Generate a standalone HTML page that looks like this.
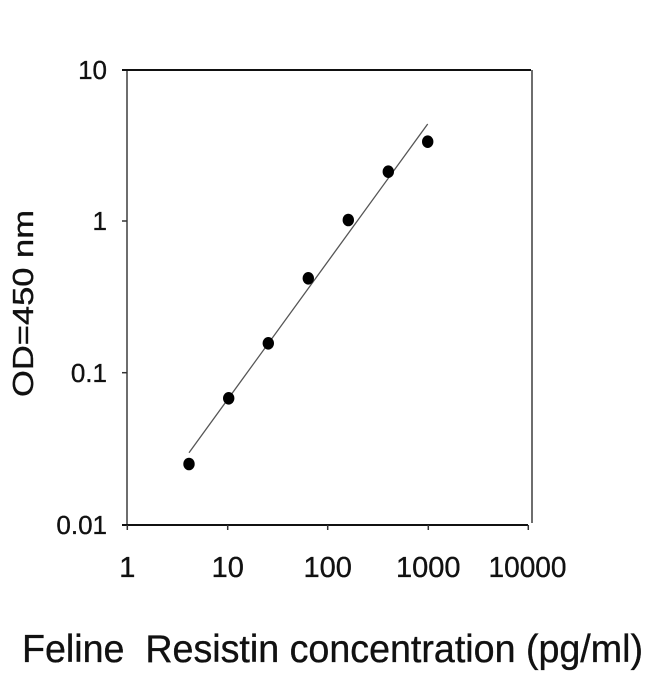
<!DOCTYPE html>
<html>
<head>
<meta charset="utf-8">
<style>
  html, body { margin: 0; padding: 0; background: #ffffff; }
  body { width: 650px; height: 674px; overflow: hidden; }
  svg { display: block; }
  text { font-family: "Liberation Sans", Arial, sans-serif; fill: #111; stroke: #111; stroke-width: 0.35; }
</style>
</head>
<body>
<svg width="650" height="674" viewBox="0 0 650 674" xmlns="http://www.w3.org/2000/svg">
  <rect x="0" y="0" width="650" height="674" fill="#ffffff"/>

  <!-- frame -->
  <line x1="127" y1="70" x2="127" y2="525" stroke="#555" stroke-width="1.7"/>
  <line x1="532" y1="70" x2="532" y2="523" stroke="#555" stroke-width="1.7"/>
  <line x1="122" y1="70" x2="531" y2="70" stroke="#111" stroke-width="2"/>
  <line x1="122" y1="525" x2="528" y2="525" stroke="#111" stroke-width="2"/>

  <!-- y ticks -->
  <line x1="122" y1="221" x2="127" y2="221" stroke="#333" stroke-width="1.5"/>
  <line x1="122" y1="372.7" x2="127" y2="372.7" stroke="#333" stroke-width="1.5"/>

  <!-- x ticks -->
  <line x1="127.3" y1="525" x2="127.3" y2="530" stroke="#333" stroke-width="1.5"/>
  <line x1="227.7" y1="525" x2="227.7" y2="530" stroke="#333" stroke-width="1.5"/>
  <line x1="327.7" y1="525" x2="327.7" y2="530" stroke="#333" stroke-width="1.5"/>
  <line x1="428.3" y1="525" x2="428.3" y2="530" stroke="#333" stroke-width="1.5"/>
  <line x1="528.3" y1="525" x2="528.3" y2="530" stroke="#333" stroke-width="1.5"/>

  <!-- y tick labels -->
  <text x="107" y="79" font-size="26" text-anchor="end">10</text>
  <text x="107" y="230" font-size="26" text-anchor="end">1</text>
  <text x="107" y="382" font-size="26" text-anchor="end">0.1</text>
  <text x="107" y="534" font-size="26" text-anchor="end">0.01</text>

  <!-- x tick labels -->
  <text x="127.3" y="577" font-size="29" text-anchor="middle">1</text>
  <text x="227.7" y="577" font-size="29" text-anchor="middle">10</text>
  <text x="327.7" y="577" font-size="29" text-anchor="middle">100</text>
  <text x="428.3" y="577" font-size="29" text-anchor="middle">1000</text>
  <text x="527.5" y="577" font-size="29" text-anchor="middle" textLength="78" lengthAdjust="spacingAndGlyphs">10000</text>

  <!-- fit line -->
  <line x1="189" y1="452.7" x2="427.7" y2="124" stroke="#555" stroke-width="1.3"/>

  <!-- data points -->
  <g fill="#000">
    <ellipse cx="189" cy="464" rx="5.7" ry="6.3"/>
    <ellipse cx="228.7" cy="398.3" rx="5.7" ry="6.3"/>
    <ellipse cx="268.3" cy="343.3" rx="5.7" ry="6.3"/>
    <ellipse cx="308.3" cy="278.3" rx="5.7" ry="6.3"/>
    <ellipse cx="348.3" cy="220" rx="5.7" ry="6.3"/>
    <ellipse cx="388.3" cy="171.7" rx="5.7" ry="6.3"/>
    <ellipse cx="427.7" cy="141.7" rx="5.7" ry="6.3"/>
  </g>

  <!-- axis titles -->
  <text transform="translate(33,303.5) rotate(-90)" x="0" y="0" font-size="29" text-anchor="middle" textLength="187" lengthAdjust="spacingAndGlyphs">OD=450 nm</text>
  <text x="22" y="662" font-size="39" textLength="621" lengthAdjust="spacingAndGlyphs" xml:space="preserve">Feline  Resistin concentration (pg/ml)</text>
</svg>
</body>
</html>
